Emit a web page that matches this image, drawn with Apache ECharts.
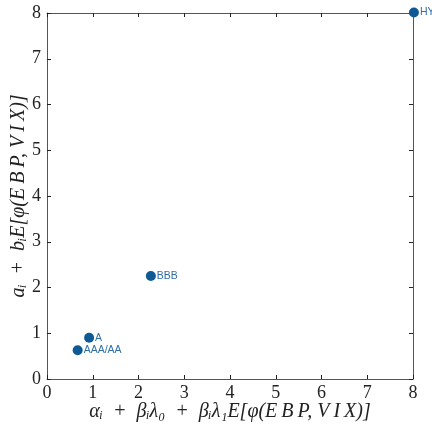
<!DOCTYPE html>
<html>
<head>
<meta charset="utf-8">
<script src="https://cdn.jsdelivr.net/npm/echarts@6/dist/echarts.min.js"></script>
<style>
  html, body { margin: 0; padding: 0; background: #fff; }
  #main { width: 432px; height: 424px; }
</style>
</head>
<body>
<div id="main"></div>
<script>
// rating groups and their coordinates
const ratings = ['AAA/AA', 'A', 'BBB', 'HY'];
const xValues = [0.67, 0.92, 2.27, 8.02];
const yValues = [0.63, 0.90, 2.25, 8.01];
const tickLabels = ['0', '1', '2', '3', '4', '5', '6', '7', '8'];

const serif = '"Liberation Serif", "DejaVu Serif", serif';
const axisColor = '#555';

let chart = echarts.init(document.getElementById('main'), null, { renderer: 'canvas' });

const baseAxis = {
    min: 0,
    max: 8,
    interval: 1,
    splitLine: { show: false },
    axisLine: { show: true, onZero: false, lineStyle: { color: axisColor, width: 1 } },
    axisTick: { show: true, inside: true, length: 4, lineStyle: { color: '#222' } },
};

let option = {
    backgroundColor: '#ffffff',
    animation: false,
    grid: { left: 47, right: 19, top: 13, bottom: 45, outerBoundsMode: 'none' },
    xAxis: [{
        ...baseAxis,
        type: 'value',
        position: 'bottom',
        axisLabel: {
            color: '#222', fontFamily: serif, fontSize: 18, margin: 5,
            formatter: v => tickLabels[v]
        },
        name: 'αᵢ  +  βᵢλ₀  +  βᵢλ₁E[φ(E\u2009B\u2009P, V\u2009I\u2009X)]',
        nameLocation: 'middle',
        nameGap: 23,
        nameMoveOverlap: false,
        nameTextStyle: { color: '#222', fontFamily: serif, fontSize: 20, fontStyle: 'italic' }
    }, {
        ...baseAxis,
        type: 'value',
        position: 'top',
        axisLabel: { show: false }
    }],
    yAxis: [{
        ...baseAxis,
        type: 'value',
        position: 'left',
        axisLabel: {
            color: '#222', fontFamily: serif, fontSize: 18, margin: 6,
            formatter: v => tickLabels[v]
        },
        name: 'aᵢ  +  bᵢE[φ(E\u2009B\u2009P, V\u2009I\u2009X)]',
        nameLocation: 'middle',
        nameGap: 18,
        nameMoveOverlap: false,
        nameTextStyle: { color: '#222', fontFamily: serif, fontSize: 20, fontStyle: 'italic' }
    }, {
        ...baseAxis,
        type: 'value',
        position: 'right',
        axisLabel: { show: false }
    }],
    series: [{
        type: 'scatter',
        clip: false,
        symbolSize: 10,
        itemStyle: { color: '#0f5a94', opacity: 1 },
        label: {
            show: true,
            position: 'right',
            distance: 1,
            color: '#2f6fa6',
            fontFamily: '"Liberation Sans", Arial, sans-serif',
            fontSize: 10.5,
            formatter: p => ratings[p.dataIndex]
        },
        data: xValues.map((x, i) => [x, yValues[i]])
    }]
};

chart.setOption(option);
</script>
</body>
</html>
